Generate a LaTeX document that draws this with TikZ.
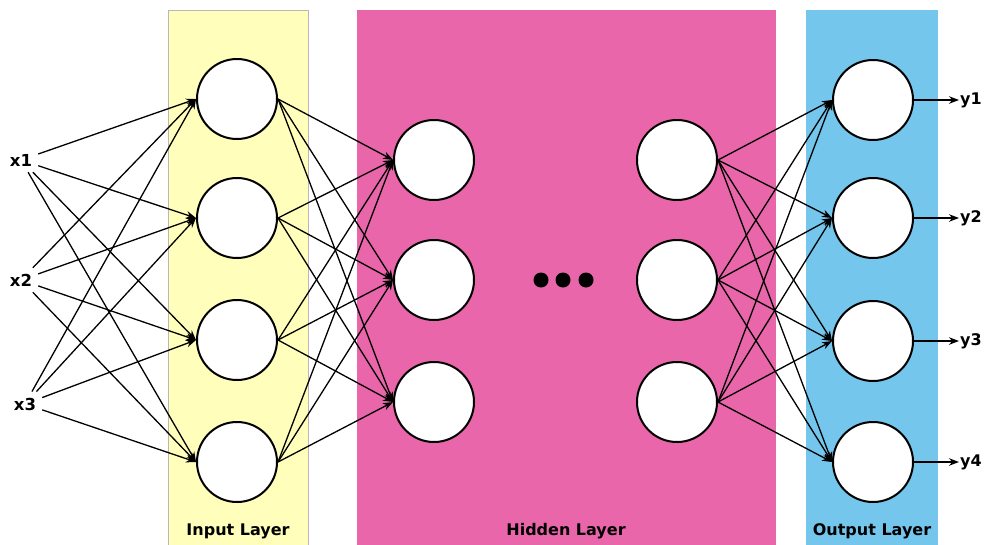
\documentclass[tikz,border=0pt]{standalone}
\usepackage{fontspec}
\setmainfont{DejaVu Sans}
\usetikzlibrary{arrows.meta}
\definecolor{bandyellow}{HTML}{FFFFBB}
\definecolor{bandpink}{HTML}{E866A9}
\definecolor{bandblue}{HTML}{74C6EC}
\definecolor{bandgray}{HTML}{B8B8B8}
\tikzset{
  neuron/.style={circle, draw=black, line width=2pt, fill=white, minimum size=80pt, inner sep=0pt},
  inlabel/.style={font=\bfseries\fontsize{16.5}{16.5}\selectfont, inner sep=6pt},
  outlabel/.style={font=\bfseries\fontsize{16}{16}\selectfont, inner sep=1pt, anchor=west},
  layerlabel/.style={font=\bfseries\fontsize{16}{16}\selectfont},
  conn/.style={line width=1.3pt, -{Stealth[length=10pt,width=7.5pt]}},
  dotnode/.style={circle, fill=black, minimum size=15pt, inner sep=0pt},
}
\begin{document}
\begin{tikzpicture}[x=1pt,y=-1pt]
\useasboundingbox (0,0) rectangle (987,544);
% bands
\fill[bandyellow, draw=bandgray, line width=1pt] (168,10) rectangle (308,545);
\fill[bandpink] (357,10) rectangle (776,545);
\fill[bandblue] (806,10) rectangle (938,545);
% labels
\node[layerlabel] at (238,531) {Input Layer};
\node[layerlabel] at (566,531) {Hidden Layer};
\node[layerlabel] at (872,531) {Output Layer};
% input texts
\node[inlabel] (x1) at (21,160) {x1};
\node[inlabel] (x2) at (21,280) {x2};
\node[inlabel] (x3) at (25,404) {x3};
% input layer
\node[neuron] (i1) at (237,99) {};
\node[neuron] (i2) at (237,218) {};
\node[neuron] (i3) at (237,340) {};
\node[neuron] (i4) at (237,462) {};
% hidden left
\node[neuron] (h1) at (434,160) {};
\node[neuron] (h2) at (434,280) {};
\node[neuron] (h3) at (434,402) {};
% hidden right
\node[neuron] (r1) at (677,160) {};
\node[neuron] (r2) at (677,280) {};
\node[neuron] (r3) at (677,402) {};
% output
\node[neuron] (o1) at (873,100) {};
\node[neuron] (o2) at (873,218) {};
\node[neuron] (o3) at (873,341) {};
\node[neuron] (o4) at (873,462) {};
% dots
\node[dotnode] (d1) at (541,280) {};
\node[dotnode] (d2) at (563,280) {};
\node[dotnode] (d3) at (586,280) {};
% outputs
\node[outlabel] (y1) at (959,100) {y1};
\node[outlabel] (y2) at (959,218) {y2};
\node[outlabel] (y3) at (959,341) {y3};
\node[outlabel] (y4) at (959,462) {y4};
% connections
\foreach \s in {x1,x2,x3}
  \foreach \t in {i1,i2,i3,i4}
    \draw[conn] (\s) -- (\t.west);
\foreach \s in {i1,i2,i3,i4}
  \foreach \t in {h1,h2,h3}
    \draw[conn] (\s.east) -- (\t.west);
\foreach \s in {r1,r2,r3}
  \foreach \t in {o1,o2,o3,o4}
    \draw[conn] (\s.east) -- (\t.west);
\foreach \n in {1,2,3,4}
  \draw[conn] (o\n.east) -- (y\n.west);
\end{tikzpicture}
\end{document}
